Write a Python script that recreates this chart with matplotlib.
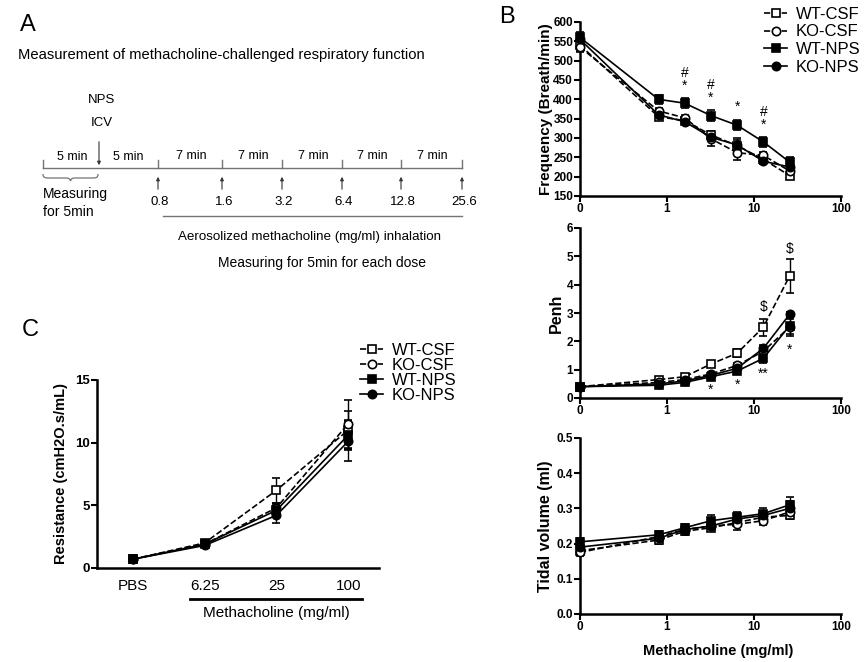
import numpy as np
import matplotlib.pyplot as plt
from matplotlib.path import Path
from matplotlib.patches import PathPatch

plt.rcParams['font.family'] = ['Liberation Sans', 'DejaVu Sans']

W, H = 866, 662

groups = ['WT-CSF', 'KO-CSF', 'WT-NPS', 'KO-NPS']
dose = [0, 0.8, 1.6, 3.2, 6.4, 12.8, 25.6]

freq = {
    'WT-CSF': [540, 355, 345, 308, 280, 245, 203],
    'KO-CSF': [535, 370, 352, 298, 262, 255, 215],
    'WT-NPS': [560, 400, 390, 358, 333, 290, 238],
    'KO-NPS': [555, 360, 342, 302, 282, 240, 225],
}
freq_err = {
    'WT-CSF': [15, 8, 8, 10, 15, 10, 8],
    'KO-CSF': [12, 8, 8, 18, 18, 8, 10],
    'WT-NPS': [15, 12, 13, 15, 13, 13, 12],
    'KO-NPS': [12, 8, 6, 10, 18, 8, 15],
}
freq_marks = [(1.6, 468, '#'), (1.6, 434, '*'), (3.2, 437, '#'), (3.2, 403, '*'),
              (6.4, 380, '*'), (12.8, 367, '#'), (12.8, 334, '*')]

penh = {
    'WT-CSF': [0.40, 0.65, 0.75, 1.20, 1.58, 2.50, 4.30],
    'KO-CSF': [0.40, 0.55, 0.65, 0.85, 1.15, 1.65, 2.50],
    'WT-NPS': [0.40, 0.45, 0.55, 0.75, 0.95, 1.40, 2.55],
    'KO-NPS': [0.40, 0.50, 0.60, 0.80, 1.05, 1.75, 2.95],
}
penh_err = {
    'WT-CSF': [0.05, 0.08, 0.08, 0.10, 0.15, 0.30, 0.60],
    'KO-CSF': [0.05, 0.05, 0.05, 0.08, 0.10, 0.15, 0.30],
    'WT-NPS': [0.05, 0.05, 0.05, 0.08, 0.10, 0.15, 0.30],
    'KO-NPS': [0.05, 0.05, 0.05, 0.06, 0.08, 0.12, 0.10],
}
penh_marks = [(12.8, 3.2, '$'), (25.6, 5.27, '$'), (3.2, 0.3, '*'), (6.4, 0.45, '*'),
              (12.8, 0.85, '**'), (25.6, 1.7, '*')]

tidal = {
    'WT-CSF': [0.180, 0.210, 0.235, 0.245, 0.260, 0.275, 0.280],
    'KO-CSF': [0.175, 0.220, 0.240, 0.250, 0.255, 0.265, 0.290],
    'WT-NPS': [0.205, 0.225, 0.245, 0.265, 0.275, 0.285, 0.310],
    'KO-NPS': [0.190, 0.215, 0.240, 0.250, 0.270, 0.280, 0.300],
}
tidal_err = {
    'WT-CSF': [0.010, 0.010, 0.010, 0.010, 0.010, 0.010, 0.010],
    'KO-CSF': [0.010, 0.010, 0.010, 0.010, 0.015, 0.012, 0.012],
    'WT-NPS': [0.012, 0.012, 0.010, 0.015, 0.015, 0.015, 0.022],
    'KO-NPS': [0.012, 0.012, 0.010, 0.010, 0.012, 0.012, 0.020],
}

res_labels = ['PBS', '6.25', '25', '100']
res = {
    'WT-CSF': [0.7, 2.0, 6.2, 11.0],
    'KO-CSF': [0.7, 1.9, 4.8, 11.5],
    'WT-NPS': [0.7, 1.9, 4.6, 10.6],
    'KO-NPS': [0.7, 1.8, 4.2, 10.1],
}
res_err = {
    'WT-CSF': [0.05, 0.1, 1.0, 1.5],
    'KO-CSF': [0.05, 0.1, 0.4, 1.9],
    'WT-NPS': [0.05, 0.1, 0.4, 1.2],
    'KO-NPS': [0.05, 0.1, 0.6, 1.6],
}

# timeline (panel A)
doses_a = ['0.8', '1.6', '3.2', '6.4', '12.8', '25.6']

styles = {
    'WT-CSF': dict(marker='s', ls='--', mfc='white'),
    'KO-CSF': dict(marker='o', ls='--', mfc='white'),
    'WT-NPS': dict(marker='s', ls='-', mfc='black'),
    'KO-NPS': dict(marker='o', ls='-', mfc='black'),
}

fig = plt.figure(figsize=(W / 100, H / 100), dpi=100)


def px_axes(left, top, right, bottom):
    return fig.add_axes([left / W, 1 - bottom / H, (right - left) / W, (bottom - top) / H])


def style_axes(ax, size=8.5):
    for s in ['top', 'right']:
        ax.spines[s].set_visible(False)
    for s in ['left', 'bottom']:
        ax.spines[s].set_linewidth(1.8)
    ax.tick_params(direction='out', length=4, width=1.5, labelsize=size, pad=1)
    for lab in ax.get_xticklabels() + ax.get_yticklabels():
        lab.set_fontweight('bold')


def draw_series(ax, x, data, err):
    handles = []
    for g in groups:
        st = styles[g]
        eb = ax.errorbar(x, data[g], yerr=err[g], color='black', lw=1.2, ls=st['ls'],
                         marker=st['marker'], ms=6, mfc=st['mfc'], mec='black', mew=1.2,
                         capsize=3, elinewidth=1, capthick=1, clip_on=False, zorder=3)
        for a in eb.lines[2]:
            a.set_linestyle('-')
        handles.append(eb.lines[0])
    return handles


# ---- overlay for panel A and labels
ax0 = fig.add_axes([0, 0, 1, 1])
ax0.set_xlim(0, W)
ax0.set_ylim(H, 0)
ax0.axis('off')

ax0.text(20, 25, 'A', fontsize=17, ha='left', va='center')
ax0.text(507, 17, 'B', fontsize=17, ha='center', va='center')
ax0.text(30, 330, 'C', fontsize=17, ha='center', va='center')
ax0.text(18, 55, 'Measurement of methacholine-challenged respiratory function',
         fontsize=10.6, ha='left', va='center')

gray = '0.45'
tick_x = [158, 222, 282, 342, 401, 462]
ax0.plot([43, 462], [168, 168], color=gray, lw=1)
ax0.plot([43, 43], [160, 168], color=gray, lw=1)
for xx, lab in zip(tick_x, doses_a):
    ax0.plot([xx, xx], [160, 168], color=gray, lw=1)
    ax0.annotate('', xy=(xx, 174), xytext=(xx, 192),
                 arrowprops=dict(arrowstyle='-|>', lw=0.8, color='0.2', mutation_scale=5))
    ax0.text(xx + 2, 202, lab, fontsize=9.5, ha='center', va='center')
mids = [(a + b) / 2 for a, b in zip(tick_x[:-1], tick_x[1:])]
for m in mids:
    ax0.text(m + 1, 156, '7 min', fontsize=9, ha='center', va='center')
ax0.text(72, 157, '5 min', fontsize=9, ha='center', va='center')
ax0.text(128, 157, '5 min', fontsize=9, ha='center', va='center')
ax0.annotate('', xy=(99, 168), xytext=(99, 139),
             arrowprops=dict(arrowstyle='-|>', lw=0.8, color='0.2', mutation_scale=5))
ax0.text(102, 100, 'NPS', fontsize=9.5, ha='center', va='center')
ax0.text(102, 123, 'ICV', fontsize=9.5, ha='center', va='center')

verts = [(43, 174), (43, 178), (45, 178), (50, 178), (66, 178),
         (69, 178), (70, 179), (70.5, 181), (71, 179), (72, 178), (75, 178),
         (91, 178), (96, 178), (98, 178), (98, 174)]
codes = [Path.MOVETO, Path.CURVE4, Path.CURVE4, Path.CURVE4, Path.LINETO,
         Path.CURVE4, Path.CURVE4, Path.CURVE4, Path.CURVE4, Path.CURVE4, Path.CURVE4,
         Path.LINETO, Path.CURVE4, Path.CURVE4, Path.CURVE4]
ax0.add_patch(PathPatch(Path(verts, codes), fc='none', ec=gray, lw=0.9))
ax0.text(43, 194, 'Measuring', fontsize=10, ha='left', va='center')
ax0.text(43, 212, 'for 5min', fontsize=10, ha='left', va='center')
ax0.plot([163, 462], [216, 216], color=gray, lw=1)
ax0.text(310, 237, 'Aerosolized methacholine (mg/ml) inhalation', fontsize=9.6,
         ha='center', va='center')
ax0.text(322, 263, 'Measuring for 5min for each dose', fontsize=10,
         ha='center', va='center')

# ---- panel B
xplot = np.where(np.array(dose) == 0, 0.1, dose)


def log_axis(ax):
    ax.set_xscale('log')
    ax.set_xlim(0.1, 100)
    ax.set_xticks([0.1, 1, 10, 100])
    ax.set_xticklabels(['0', '1', '10', '100'])
    ax.minorticks_off()


ax1 = px_axes(580, 22, 841, 196)
h = draw_series(ax1, xplot, freq, freq_err)
log_axis(ax1)
ax1.set_ylim(150, 600)
ax1.set_yticks(np.arange(150, 601, 50))
ax1.set_ylabel('Frequency (Breath/min)', fontsize=11, fontweight='bold')
ax1.yaxis.set_label_coords(-0.105, 0.5)
style_axes(ax1)
for x, y, t in freq_marks:
    ax1.text(x, y, t, fontsize=10, ha='center', va='center')

ax2 = px_axes(580, 228, 841, 398)
draw_series(ax2, xplot, penh, penh_err)
log_axis(ax2)
ax2.set_ylim(0, 6)
ax2.set_yticks(range(7))
ax2.set_ylabel('Penh', fontsize=11.5, fontweight='bold')
ax2.yaxis.set_label_coords(-0.06, 0.5)
style_axes(ax2)
for x, y, t in penh_marks:
    ax2.text(x, y, t, fontsize=10, ha='center', va='center')

ax3 = px_axes(580, 438, 841, 614)
draw_series(ax3, xplot, tidal, tidal_err)
log_axis(ax3)
ax3.set_ylim(0, 0.5)
ax3.set_yticks(np.arange(0, 0.51, 0.1))
ax3.set_yticklabels(['%.1f' % v for v in np.arange(0, 0.51, 0.1)])
ax3.set_ylabel('Tidal volume (ml)', fontsize=11.5, fontweight='bold')
ax3.yaxis.set_label_coords(-0.105, 0.5)
ax3.set_xlabel('Methacholine (mg/ml)', fontsize=10.5, fontweight='bold')
ax3.xaxis.set_label_coords(0.529, -0.17)
style_axes(ax3)

fig.legend(h, groups, loc='upper left', bbox_to_anchor=(764 / W, 1 - 7 / H),
           frameon=False, handlelength=1.4, handletextpad=0.5, labelspacing=0.15,
           fontsize=12, borderaxespad=0, borderpad=0)

# ---- panel C
ax4 = px_axes(97, 380, 379, 568)
xc = np.arange(len(res_labels))
hc = draw_series(ax4, xc, res, res_err)
ax4.set_xlim(-0.5, 3.43)
ax4.set_ylim(0, 15)
ax4.set_yticks([0, 5, 10, 15])
ax4.set_xticks(xc)
ax4.set_xticklabels(res_labels)
ax4.set_ylabel('Resistance (cmH2O.s/mL)', fontsize=10.5, fontweight='bold')
ax4.yaxis.set_label_coords(-0.103, 0.5)
style_axes(ax4, size=9.5)
ax4.tick_params(axis='x', length=0, pad=8, labelsize=11)
for lab in ax4.get_xticklabels():
    lab.set_fontweight('normal')
ax4.set_xlabel('Methacholine (mg/ml)', fontsize=11)
ax4.xaxis.set_label_coords((276 - 97) / 282, -(606 - 568) / 188)
ax0.plot([190, 362], [599, 599], color='black', lw=2)

fig.legend(hc, groups, loc='upper left', bbox_to_anchor=(360 / W, 1 - 343 / H),
           frameon=False, handlelength=1.4, handletextpad=0.5, labelspacing=0.0,
           fontsize=12, borderaxespad=0, borderpad=0)

fig.savefig('out.png', dpi=100)
